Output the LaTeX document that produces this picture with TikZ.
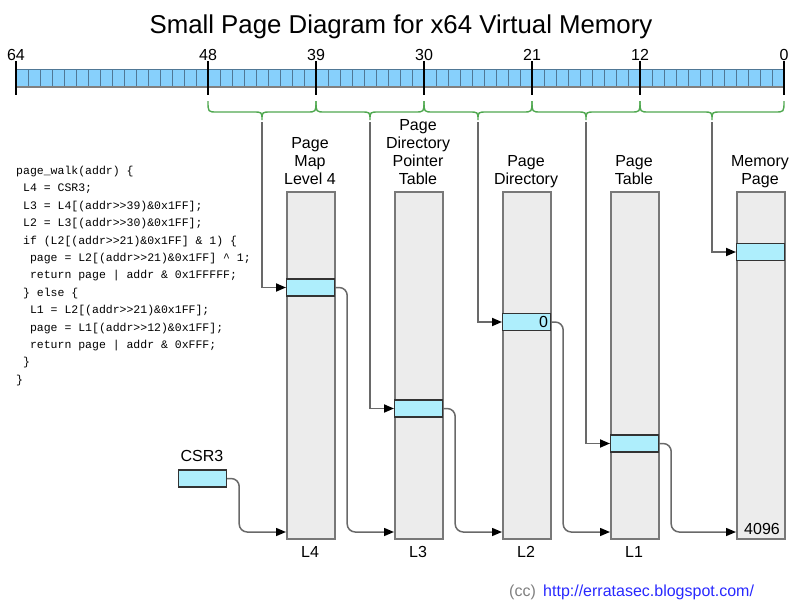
\documentclass[tikz,border=0pt]{standalone}
\usepackage{fontspec}
\setmainfont{Liberation Sans}
\setmonofont{Liberation Mono}
\usetikzlibrary{arrows.meta}
\definecolor{cellblue}{RGB}{135,208,252}
\definecolor{celledge}{RGB}{80,120,150}
\definecolor{entryfill}{RGB}{174,238,252}
\definecolor{colfill}{RGB}{236,236,236}
\definecolor{coledge}{RGB}{120,120,120}
\definecolor{bracegreen}{RGB}{80,168,80}
\definecolor{linkgray}{RGB}{105,105,105}
\definecolor{urlblue}{RGB}{40,40,255}
\newcommand\cind{\hspace*{6.9pt}}
\begin{document}
\begin{tikzpicture}[x=1pt,y=-1pt,
  lbl/.style={font=\fontsize{16}{18}\selectfont, inner sep=0pt},
  coltitle/.style={lbl, align=center, anchor=base},
  column/.style={draw=coledge, line width=2pt, fill=colfill, minimum width=48pt, minimum height=347pt, inner sep=0pt, anchor=north west},
  entrybox/.style={draw=black!80, line width=1.2pt, fill=entryfill, minimum width=48pt, minimum height=17pt, inner sep=0pt, anchor=west},
  link/.style={draw=linkgray, line width=1.5pt, rounded corners=8pt, -{Triangle[length=10pt,width=8pt,color=black]}},
  feed/.style={draw=linkgray, line width=1.8pt, -{Triangle[length=10pt,width=8pt,color=black]}},
  tick/.style={draw=black, line width=2.4pt},
  bracestyle/.style={draw=bracegreen, line width=1.4pt},
]
\useasboundingbox (0,0) rectangle (800,600);

% title
\node[font=\fontsize{25.8}{30}\selectfont, anchor=base, inner sep=0pt] (title) at (401,33.5) {Small Page Diagram for x64 Virtual Memory};

% bit bar
\fill[cellblue] (16,69) rectangle (784,87);
\foreach \i in {1,...,63} \draw[celledge, line width=0.8pt] (16+12*\i,69) -- (16+12*\i,87);
\draw[celledge, line width=0.8pt] (16,69) -- (784,69);
\draw[gray, line width=1.4pt] (16,87) -- (784,87);

% ticks and bit numbers
\foreach \b in {64,48,39,30,21,12,0} {
  \draw[tick] (784-12*\b,61) -- (784-12*\b,95);
  \node[lbl, anchor=base] (n\b) at (784-12*\b,60) {\b};
}

% braces
\foreach \xa/\xb/\nm in {208/316/4, 316/424/3, 424/532/2, 532/640/1, 640/784/0} {
  \pgfmathsetmacro\xc{(\xa+\xb)/2}
  \draw[bracestyle] (\xa,101) .. controls (\xa,112) .. (\xa+9,112) -- (\xc-9,112)
     .. controls (\xc,112) .. (\xc,120) .. controls (\xc,112) .. (\xc+9,112)
     -- (\xb-9,112) .. controls (\xb,112) .. (\xb,101);
  \coordinate (f\nm) at (\xc,122);
}

% code
\node[anchor=base west, align=left, font=\ttfamily\fontsize{11.5}{17.4}\selectfont, inner sep=0pt] (code) at (16,383.3) {%
page\_walk(addr) \{\\
\cind L4 = CSR3;\\
\cind L3 = L4[(addr>>39)\&0x1FF];\\
\cind L2 = L3[(addr>>30)\&0x1FF];\\
\cind if (L2[(addr>>21)\&0x1FF] \& 1) \{\\
\cind\cind page = L2[(addr>>21)\&0x1FF] \textasciicircum{} 1;\\
\cind\cind return page | addr \& 0x1FFFFF;\\
\cind\} else \{\\
\cind\cind L1 = L2[(addr>>21)\&0x1FF];\\
\cind\cind page = L1[(addr>>12)\&0x1FF];\\
\cind\cind return page | addr \& 0xFFF;\\
\cind\}\\
\}};

% column titles
\node[coltitle] (t4) at (310,184) {Page\\Map\\Level 4};
\node[coltitle] (t3) at (418,184) {Page\\Directory\\Pointer\\Table};
\node[coltitle] (t2) at (526,184) {Page\\Directory};
\node[coltitle] (t1) at (634,184) {Page\\Table};
\node[coltitle] (t0) at (760,184) {Memory\\Page};

% columns
\node[column] (c4) at (286,191) {};
\node[column] (c3) at (394,191) {};
\node[column] (c2) at (502,191) {};
\node[column] (c1) at (610,191) {};
\node[column] (c0) at (736,191) {};

% bottom labels
\node[lbl, anchor=base] (l4) at (310,557) {L4};
\node[lbl, anchor=base] (l3) at (418,557) {L3};
\node[lbl, anchor=base] (l2) at (526,557) {L2};
\node[lbl, anchor=base] (l1) at (634,557) {L1};
\node[lbl, anchor=base east] (size) at (780,534) {4096};

% entries
\node[entrybox] (e4) at (286,287.5) {};
\node[entrybox] (e3) at (394,408.5) {};
\node[entrybox] (e2) at (502,322) {};
\node[entrybox] (e1) at (610,443.5) {};
\node[entrybox] (e0) at (736,252) {};
\node[lbl, anchor=east] (zero) at ([xshift=-3pt]e2.east) {0};

% CSR3
\node[lbl, anchor=base] (csrlbl) at (202,461) {CSR3};
\node[entrybox] (csr) at (178,478.5) {};

% feeds from the address bits
\draw[feed] (f4) |- (e4.west);
\draw[feed] (f3) |- (e3.west);
\draw[feed] (f2) |- (e2.west);
\draw[feed] (f1) |- (e1.west);
\draw[feed] (f0) |- (e0.west);

% chained table pointers
\draw[link] (csr.east) -- ++(12,0) |- ([yshift=8pt]c4.south west);
\draw[link] (e4.east) -- ++(12,0) |- ([yshift=8pt]c3.south west);
\draw[link] (e3.east) -- ++(12,0) |- ([yshift=8pt]c2.south west);
\draw[link] (e2.east) -- ++(12,0) |- ([yshift=8pt]c1.south west);
\draw[link] (e1.east) -- ++(12,0) |- ([yshift=8pt]c0.south west);

% footer
\node[lbl, anchor=base west, text=gray] (cc) at (509,596) {(cc)};
\node[lbl, anchor=base west, text=urlblue] (url) at (543,596) {\underline{http://erratasec.blogspot.com/}};
\end{tikzpicture}
\end{document}
